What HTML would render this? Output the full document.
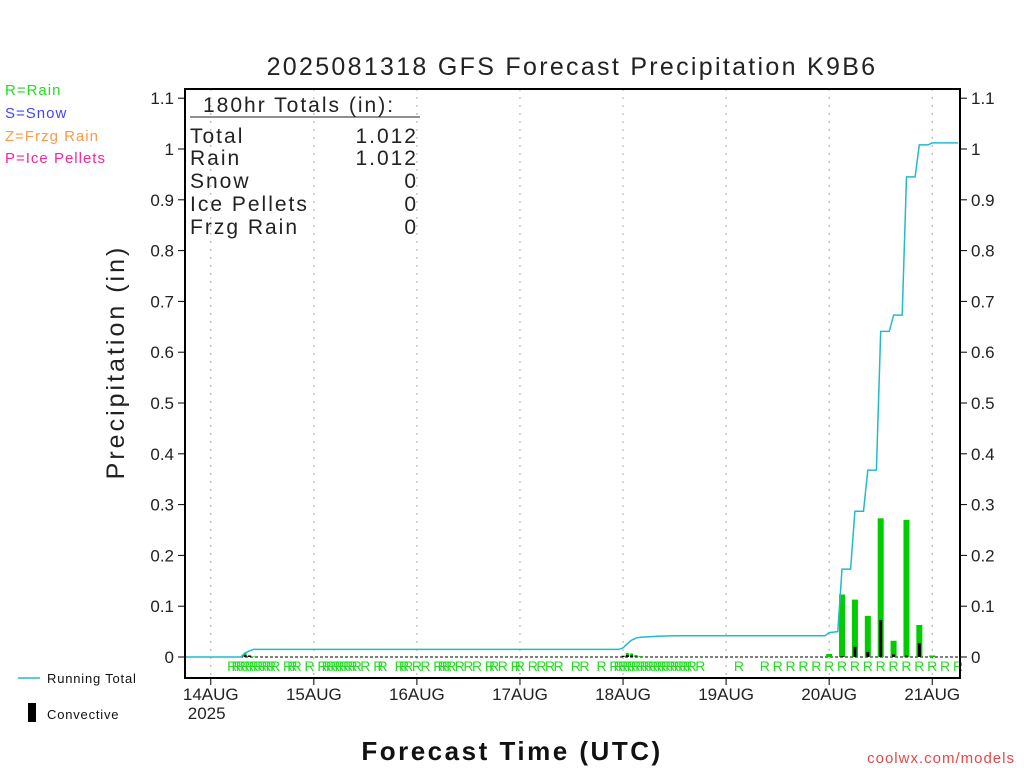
<!DOCTYPE html>
<html><head><meta charset="utf-8"><style>
body{margin:0;background:#fff}
svg{display:block;font-family:"Liberation Sans",sans-serif}
</style></head><body>
<svg id="c" width="1024" height="768" xmlns="http://www.w3.org/2000/svg">
<text x="572" y="75" text-anchor="middle" font-size="25" fill="#222" letter-spacing="2.3">2025081318 GFS Forecast Precipitation K9B6</text>
<g font-size="15" letter-spacing="1">
<text x="5" y="95" fill="#22dd22">R=Rain</text>
<text x="5" y="118" fill="#4444ff">S=Snow</text>
<text x="5" y="141" fill="#ff9944">Z=Frzg Rain</text>
<text x="5" y="163" fill="#ff2299">P=Ice Pellets</text>
</g>
<text transform="translate(124,362) rotate(-90)" text-anchor="middle" font-size="25" fill="#222" letter-spacing="3">Precipitation (in)</text>
<text x="512" y="760" text-anchor="middle" font-size="26" font-weight="bold" fill="#111" letter-spacing="2.5">Forecast Time (UTC)</text>
<text x="1015" y="763" text-anchor="end" font-size="15" fill="#ee4444" letter-spacing="1">coolwx.com/models</text>
<g>
<line x1="18" y1="678" x2="40" y2="678" stroke="#22bbcc" stroke-width="1.5"/>
<text x="47" y="683" font-size="13" fill="#111" letter-spacing="0.8">Running Total</text>
<rect x="28" y="703" width="8" height="19" fill="#000"/>
<text x="47" y="719" font-size="13" fill="#111" letter-spacing="0.8">Convective</text>
</g>
<g id="plot"></g>
<g font-size="21" fill="#222" letter-spacing="2">
<text x="203" y="112">180hr Totals (in):</text>
<line x1="190" y1="117" x2="420" y2="117" stroke="#222" stroke-width="1"/>
<text x="190" y="143">Total</text><text x="418" y="143" text-anchor="end">1.012</text>
<text x="190" y="165">Rain</text><text x="418" y="165" text-anchor="end">1.012</text>
<text x="190" y="188">Snow</text><text x="418" y="188" text-anchor="end">0</text>
<text x="190" y="211">Ice Pellets</text><text x="418" y="211" text-anchor="end">0</text>
<text x="190" y="234">Frzg Rain</text><text x="418" y="234" text-anchor="end">0</text>
</g>
</svg>
<script>
const dayLabels=["14AUG","15AUG","16AUG","17AUG","18AUG","19AUG","20AUG","21AUG"];
const dayHours=[6,30,54,78,102,126,150,174];
const yTicks=[0,0.1,0.2,0.3,0.4,0.5,0.6,0.7,0.8,0.9,1,1.1];
const yTickLabels=["0","0.1","0.2","0.3","0.4","0.5","0.6","0.7","0.8","0.9","1","1.1"];
const barHours=[14,15,16,102,103,104,105,106,150,153,156,159,162,165,168,171,174];
const barPrecip=[0.008,0.004,0.001,0.003,0.008,0.007,0.004,0.002,0.006,0.123,0.113,0.081,0.273,0.032,0.27,0.063,0.003];
const barConv=[0.004,0.002,0,0.002,0.004,0.003,0.001,0,0,0.002,0.02,0.01,0.073,0.005,0.003,0.027,0];
const totHours=[0,13,14,15,16,101,102,103,104,105,106,110,114,149,150,152,153,155,156,158,159,161,162,164,165,167,168,170,171,173,174,180];
const totVals=[0,0,0.008,0.012,0.015,0.015,0.018,0.026,0.033,0.037,0.039,0.041,0.042,0.042,0.048,0.05,0.173,0.173,0.287,0.287,0.368,0.368,0.641,0.641,0.673,0.673,0.945,0.945,1.008,1.008,1.012,1.012];
const rHours=[11,12,13,14,15,16,17,18,19,20,21,24,25,26,29,32,33,34,35,36,37,38,39,40,42,45,46,50,51,52,54,56,59,60,61,62,64,66,68,71,72,74,77,78,81,83,85,87,91,93,97,100,101,102,103,104,105,106,107,108,109,110,111,112,113,114,115,116,117,118,120,129,135,138,141,144,147,150,153,156,159,162,165,168,171,174,177,180];
const NS="http://www.w3.org/2000/svg";
const L=185,R=960,T=89,B=678;
const xs=h=>L+(h/180)*(R-L-2);
const ys=v=>657-v*508;
const g=document.getElementById('plot');
function mk(t,a){const e=document.createElementNS(NS,t);for(const k in a)e.setAttribute(k,a[k]);g.appendChild(e);return e;}
dayHours.forEach((h,i)=>{
 const l=mk('line',{x1:xs(h),y1:T,x2:xs(h),y2:B,stroke:'#aaa','stroke-dasharray':'2,6'});
 
 
 const tk=mk('line',{x1:xs(h),y1:B,x2:xs(h),y2:B+7,stroke:'#000'});
 
 
 const t=mk('text',{x:xs(h),y:B+22,'text-anchor':'middle','font-size':'17',fill:'#222'});
 t.textContent=dayLabels[i];
 
 
});
const yr=mk('text',{x:xs(6)-23,y:B+41,'font-size':'17',fill:'#222'});yr.textContent="2025";


yTicks.forEach((v,i)=>{
 [[L-7,L],[R,R+7]].forEach(p=>{const tk=mk('line',{x1:p[0],y1:ys(v),x2:p[1],y2:ys(v),stroke:'#000'});
 
 });
 const a=mk('text',{x:L-11,y:ys(v)+6,'text-anchor':'end','font-size':'17',fill:'#222'});a.textContent=yTickLabels[i];
 
 
 const b=mk('text',{x:R+11,y:ys(v)+6,'font-size':'17',fill:'#222'});b.textContent=yTickLabels[i];
 
 
});
const zl=mk('line',{x1:L,y1:ys(0),x2:R,y2:ys(0),stroke:'#000','stroke-dasharray':'3,2'});


barHours.forEach((h,i)=>{
 const w=h>=150?6:3;
 const r=mk('rect',{x:xs(h)-w/2,y:ys(barPrecip[i]),width:w,height:barPrecip[i]*508,fill:'#00cc00'});
 
 
 if(barConv[i]>0){const c=mk('rect',{x:xs(h)-1.5,y:ys(barConv[i]),width:3,height:barConv[i]*508,fill:'#000'});
 
 }
});
const pts=totHours.map((h,i)=>xs(h).toFixed(1)+','+ys(totVals[i]).toFixed(1)).join(' ');
const pl=mk('polyline',{points:pts,fill:'none',stroke:'#22bbcc','stroke-width':'1.5'});


rHours.forEach(h=>{const t=mk('text',{x:xs(h),y:671,'text-anchor':'middle','font-size':'14',fill:'#22dd22'});t.textContent='R';
 
 });
const fr=mk('rect',{x:L,y:T,width:R-L,height:B-T,fill:'none',stroke:'#000','stroke-width':'2'});


</script>
</body></html>
